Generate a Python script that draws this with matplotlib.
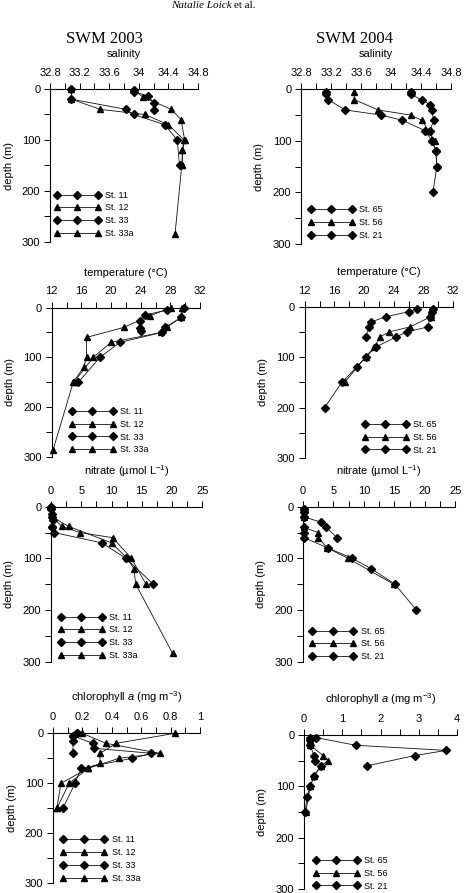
import matplotlib
matplotlib.use('Agg')
import matplotlib.pyplot as plt
from matplotlib.ticker import MultipleLocator, FuncFormatter

plt.rcParams['font.family'] = ['Liberation Sans', 'DejaVu Sans']
plt.rcParams['mathtext.fontset'] = 'custom'
plt.rcParams['mathtext.rm'] = 'Liberation Sans'
plt.rcParams['mathtext.it'] = 'Liberation Sans:italic'

W, H = 467, 893
fig = plt.figure(figsize=(W / 100, H / 100), dpi=100)

# ---------------- data ----------------
stations_2003 = ['St. 11', 'St. 12', 'St. 33', 'St. 33a']
stations_2004 = ['St. 65', 'St. 56', 'St. 21']
markers_2003 = ['D', '^', 'D', '^']
markers_2004 = ['D', '^', 'D']

# salinity 2003
sal03_d = [[0, 20, 40, 50, 70, 100, 150],
           [0, 20, 40, 50, 70, 100, 120, 150],
           [2, 5, 14, 27, 41],
           [2, 16, 40, 60, 100, 120, 150, 284]]
sal03_v = [[33.09, 33.09, 33.83, 33.93, 34.35, 34.52, 34.55],
           [33.09, 33.09, 33.48, 34.08, 34.40, 34.61, 34.59, 34.59],
           [33.93, 33.93, 34.13, 34.20, 34.21],
           [33.93, 34.06, 34.44, 34.57, 34.62, 34.59, 34.58, 34.49]]
# salinity 2004
sal04_d = [[5, 10, 20, 30, 40, 60, 80, 100, 120, 150, 200],
           [5, 20, 40, 50, 60, 80, 100],
           [5, 10, 20, 40, 50, 60, 80, 100, 120, 150]]
sal04_v = [[34.26, 34.26, 34.41, 34.52, 34.54, 34.57, 34.52, 34.55, 34.60, 34.61, 34.56],
           [33.51, 33.51, 33.83, 34.26, 34.41, 34.50, 34.58],
           [33.13, 33.13, 33.16, 33.39, 33.87, 34.15, 34.45, 34.55, 34.60, 34.61]]
# temperature 2003
tem03_d = [[0, 20, 40, 50, 70, 100, 150],
           [0, 20, 40, 50, 70, 100, 150],
           [5, 15, 27, 42, 48],
           [0, 17, 40, 60, 100, 120, 150, 285]]
tem03_v = [[29.9, 29.5, 27.3, 26.9, 21.2, 18.5, 15.6],
           [29.6, 29.4, 27.5, 26.8, 20.0, 17.6, 15.0],
           [27.6, 24.6, 23.9, 23.9, 24.0],
           [28.1, 25.2, 21.7, 16.7, 16.7, 16.3, 14.9, 12.2]]
# temperature 2004
tem04_d = [[5, 10, 20, 30, 40, 60],
           [5, 10, 20, 40, 50, 60, 80, 100, 150],
           [5, 10, 20, 40, 50, 60, 80, 100, 120, 150, 200]]
tem04_v = [[27.1, 26.0, 22.9, 21.0, 20.7, 20.2],
           [29.2, 29.1, 29.0, 26.2, 23.4, 22.1, 21.4, 20.2, 17.4],
           [29.3, 29.2, 28.9, 28.6, 25.8, 24.3, 21.6, 20.2, 19.0, 17.0, 14.7]]
# nitrate 2003
nit03_d = [[0, 20, 40, 50, 70, 100, 150],
           [0, 20, 38, 50, 60, 100, 150],
           [0, 5, 15, 25, 40],
           [0, 20, 38, 70, 100, 120, 150, 284]]
nit03_v = [[0.0, 0.1, 0.1, 0.5, 8.4, 12.4, 16.9],
           [0.0, 0.2, 1.8, 4.8, 10.2, 13.3, 15.7],
           [0.0, 0.0, 0.1, 0.3, 0.2],
           [0.0, 0.2, 2.9, 10.0, 12.6, 13.7, 14.0, 20.1]]
# nitrate 2004
nit04_d = [[5, 10, 20, 30, 40, 60],
           [5, 20, 40, 50, 60, 80, 100, 150],
           [5, 10, 20, 40, 50, 60, 80, 100, 120, 150, 200]]
nit04_v = [[0.1, 0.1, 0.2, 3.0, 3.8, 5.6],
           [0.1, 0.1, 0.1, 2.5, 2.5, 4.0, 7.4, 14.9],
           [0.1, 0.1, 0.1, 0.1, 0.1, 0.2, 4.1, 8.1, 11.2, 15.1, 18.6]]
# chlorophyll a 2003
chl03_d = [[0, 5, 20, 30, 40, 50, 70, 100, 150],
           [0, 20, 40, 50, 70, 100, 150],
           [0, 5, 15, 40],
           [0, 20, 40, 60, 70, 100, 150]]
chl03_v = [[0.16, 0.136, 0.27, 0.28, 0.67, 0.54, 0.19, 0.15, 0.067],
           [0.20, 0.36, 0.725, 0.45, 0.24, 0.11, 0.026],
           [0.16, 0.136, 0.136, 0.136],
           [0.83, 0.43, 0.32, 0.32, 0.24, 0.054, 0.026]]
# chlorophyll a 2004
chl04_d = [[5, 20, 30, 40, 60],
           [5, 10, 20, 40, 50, 60, 80, 100, 150],
           [5, 10, 20, 40, 50, 60, 80, 100, 120, 150]]
chl04_v = [[0.32, 1.35, 3.72, 2.90, 1.65],
           [0.16, 0.16, 0.16, 0.50, 0.63, 0.44, 0.26, 0.165, 0.045],
           [0.16, 0.16, 0.16, 0.26, 0.30, 0.44, 0.26, 0.165, 0.08, 0.03]]

depth_major = [0, 100, 200, 300]
depth_minor = [50, 150, 250]

# ---------------- layout helpers ----------------
def make_axes(x0, x1, y0, y1):
    return fig.add_axes([x0 / W, 1 - y1 / H, (x1 - x0) / W, (y1 - y0) / H])

fmt = FuncFormatter(lambda v, p: f"{v:g}")

def panel(box, xlim, major, minor, xlabel, depths, values, labels, markers, leg_xy):
    x0, x1, y0, y1 = box
    ax = make_axes(x0, x1, y0, y1)
    ax.set_xlim(*xlim)
    ax.set_ylim(300, 0)
    for s in ['bottom', 'right']:
        ax.spines[s].set_visible(False)
    for s in ['top', 'left']:
        ax.spines[s].set_linewidth(0.8)
    ax.xaxis.tick_top()
    ax.xaxis.set_label_position('top')
    ax.xaxis.set_major_locator(MultipleLocator(major))
    ax.xaxis.set_minor_locator(MultipleLocator(minor))
    ax.xaxis.set_major_formatter(fmt)
    ax.set_yticks(depth_major)
    ax.set_yticks(depth_minor, minor=True)
    ax.tick_params(axis='x', which='both', direction='out', length=4, width=0.7,
                   labelsize=8, pad=4, top=True, bottom=False)
    ax.tick_params(axis='y', which='both', direction='out', length=4, width=0.7,
                   labelsize=8, pad=3)
    ax.set_xlabel(xlabel, fontsize=8)
    h = y1 - y0
    ax.xaxis.set_label_coords(0.5, 1 + 32 / h)
    ax.set_ylabel('depth (m)', fontsize=8)
    ax.yaxis.set_label_coords(-0.245, 0.5)
    handles = []
    for d, v, m in zip(depths, values, markers):
        ms = 4.5 if m == 'D' else 5.0
        ln, = ax.plot(v, d, color='#111111', lw=0.6, marker=m, ms=ms,
                      mfc='black', mec='black', clip_on=False)
        handles.append(ln)
    fs = 6.5
    fs_px = fs * 100 / 72
    pad = 0.3 * fs_px
    xf, yf = leg_xy
    ax.legend(handles, labels, loc='upper left',
              bbox_to_anchor=((xf - pad) / W, 1 - (yf - 4.0) / H),
              bbox_transform=fig.transFigure, frameon=False, borderpad=0,
              borderaxespad=0, handlelength=(41 + 2 * pad) / fs_px,
              handletextpad=0.55, labelspacing=0.42, numpoints=3, fontsize=fs)
    return ax

# salinity
panel((50, 198, 89, 242), (32.8, 34.8), 0.4, 0.2, 'salinity',
      sal03_d, sal03_v, stations_2003, markers_2003, (56.7, 194.7))
panel((301, 451, 89.3, 244), (32.8, 34.8), 0.4, 0.2, 'salinity',
      sal04_d, sal04_v, stations_2004, markers_2004, (310.7, 209.3))
# temperature
panel((51.7, 200, 307.5, 457), (12, 32), 4, 2, 'temperature (°C)',
      tem03_d, tem03_v, stations_2003, markers_2003, (71.7, 411))
panel((304.7, 453, 306.7, 458), (12, 32), 4, 2, 'temperature (°C)',
      tem04_d, tem04_v, stations_2004, markers_2004, (364.7, 424))
# nitrate
panel((51, 202.3, 506.7, 661.7), (0, 25), 5, 2.5, r'nitrate (µmol L$^{-1}$)',
      nit03_d, nit03_v, stations_2003, markers_2003, (60.7, 616.7))
panel((303, 455.3, 506.7, 661.7), (0, 25), 5, 2.5, r'nitrate (µmol L$^{-1}$)',
      nit04_d, nit04_v, stations_2004, markers_2004, (312, 630.7))
# chlorophyll
panel((53, 200, 733.3, 883.3), (0, 1), 0.2, 0.1, r'chlorophyll $a$ (mg m$^{-3}$)',
      chl03_d, chl03_v, stations_2003, markers_2003, (63.3, 839.3))
panel((304, 457, 735, 889), (0, 4), 1, 0.5, r'chlorophyll $a$ (mg m$^{-3}$)',
      chl04_d, chl04_v, stations_2004, markers_2004, (315.7, 860))

# titles and header
fig.text(104 / W, 1 - 43 / H, 'SWM 2003', family='Liberation Serif', fontsize=12,
         ha='center', va='baseline')
fig.text(355 / W, 1 - 43 / H, 'SWM 2004', family='Liberation Serif', fontsize=12,
         ha='center', va='baseline')
fig.text(232 / W, 1 - 7.5 / H, 'Natalie Loick', family='Liberation Serif', style='italic',
         fontsize=8, ha='right', va='baseline')
fig.text(233.5 / W, 1 - 7.5 / H, 'et al.', family='Liberation Serif',
         fontsize=8, ha='left', va='baseline')

fig.savefig('out.png', dpi=100)
